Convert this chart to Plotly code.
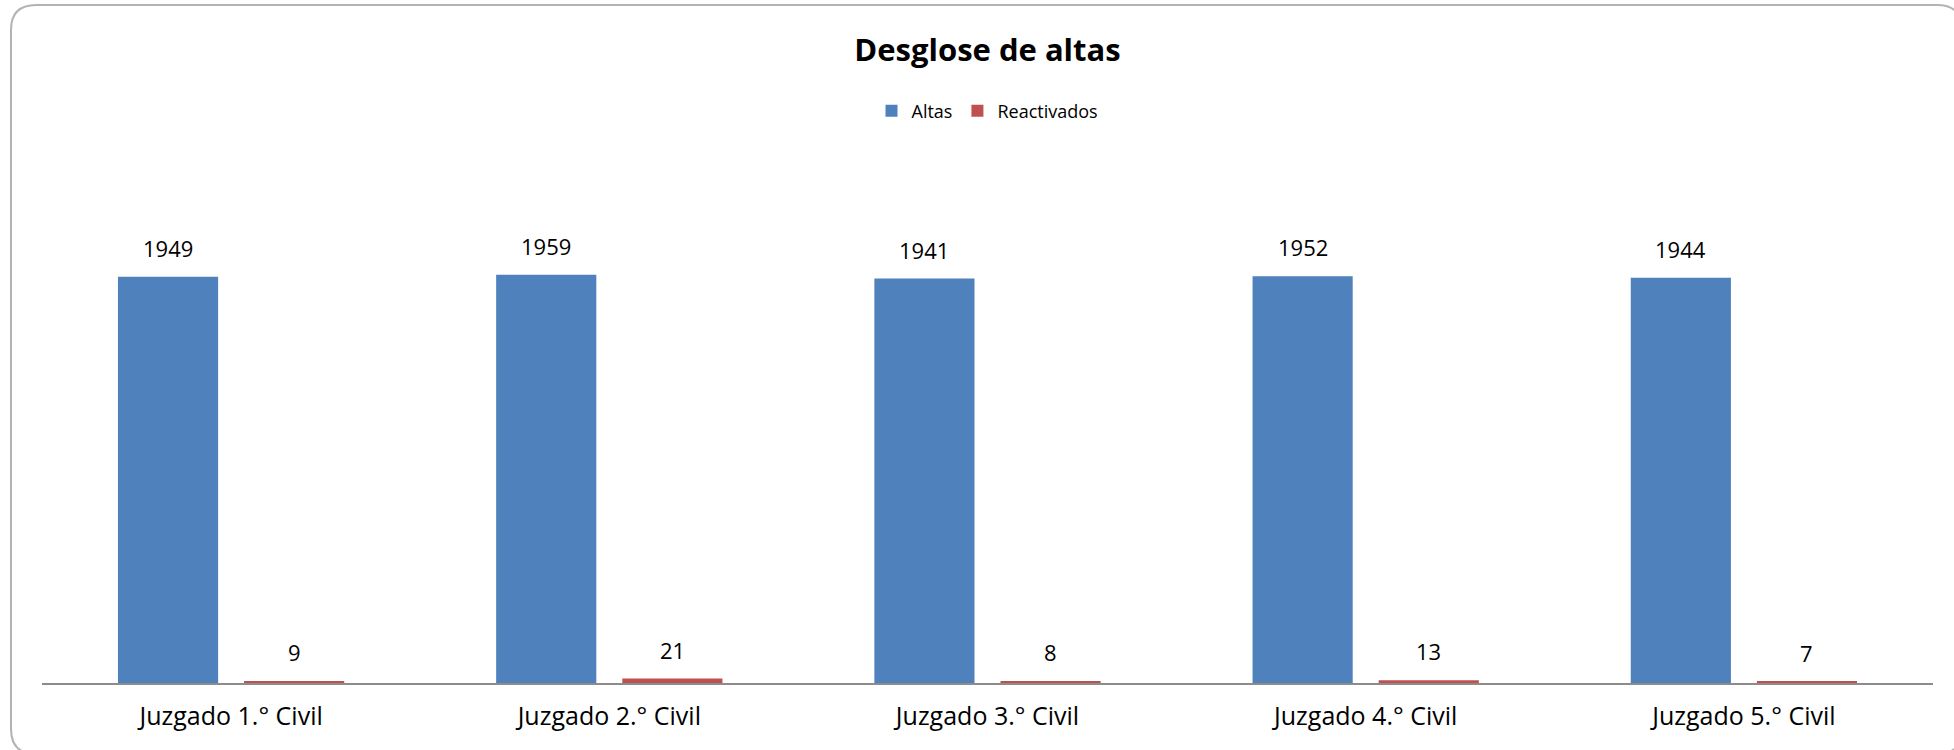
import plotly.graph_objects as go

categories = ["Juzgado 1.° Civil", "Juzgado 2.° Civil", "Juzgado 3.° Civil", "Juzgado 4.° Civil", "Juzgado 5.° Civil"]
altas = [1949, 1959, 1941, 1952, 1944]
reactivados = [9, 21, 8, 13, 7]
series_names = ["Altas", "Reactivados"]
colors = ["#4F81BD", "#C0504D"]

W, H = 1954, 750
ML, MR, MT, MB = 42, 21, 162, 67
BARGAP = 0.333
BARGROUPGAP = 0.206
FONT = "Open Sans, Noto Sans, DejaVu Sans, sans-serif"

fig = go.Figure()
for name, vals, col in zip(series_names, [altas, reactivados], colors):
    fig.add_trace(go.Bar(x=categories, y=vals, name=name,
                         marker=dict(color=col, line=dict(width=0))))

pw = W - ML - MR
cat_w = pw / len(categories)
offset = cat_w * (1 - BARGAP) / 4

annotations = []
for vals, sgn in zip([altas, reactivados], [-1, 1]):
    for c, v in zip(categories, vals):
        annotations.append(dict(x=c, y=v, xref="x", yref="y", text=str(v),
                                showarrow=False, xshift=sgn * offset, yshift=29,
                                yanchor="middle",
                                font=dict(family=FONT, size=22, color="#000000")))

ph = H - MT - MB
# border in pixels relative to plot-area bottom-left (y up)
bl, br = 11 - ML, 1962 - ML
bt, bb = (H - MB) - 5, (H - MB) - 754
r = 25
border = (f"M {bl+r},{bt} L {br-r},{bt} Q {br},{bt} {br},{bt-r} "
          f"L {br},{bb+r} Q {br},{bb} {br-r},{bb} "
          f"L {bl+r},{bb} Q {bl},{bb} {bl},{bb+r} "
          f"L {bl},{bt-r} Q {bl},{bt} {bl+r},{bt} Z")

fig.update_layout(
    width=W, height=H,
    margin=dict(l=ML, r=MR, t=MT, b=MB),
    paper_bgcolor="white", plot_bgcolor="white",
    barmode="group", bargap=BARGAP, bargroupgap=BARGROUPGAP,
    font=dict(family=FONT, color="#000000"),
    title=dict(text="<b>Desglose de altas</b>", x=0.5, xref="paper",
               y=1 - 50 / H, yref="container", yanchor="middle", xanchor="center",
               font=dict(family=FONT, size=31, color="#000000")),
    showlegend=True,
    legend=dict(orientation="h", x=0.5, xanchor="center", y=((H - MB) - 111) / ph,
                yanchor="middle", font=dict(family=FONT, size=18, color="#000000"),
                traceorder="normal", bgcolor="rgba(0,0,0,0)"),
    annotations=annotations,
    xaxis=dict(showline=True, linecolor="#8C8C8C", linewidth=2, ticks="",
               showgrid=False, zeroline=False,
               tickfont=dict(family=FONT, size=25, color="#000000"),
               ticklabelstandoff=10),
    yaxis=dict(range=[0, 2500], visible=False, showgrid=False, zeroline=False),
    shapes=[dict(type="path", xref="paper", yref="paper",
                 xsizemode="pixel", ysizemode="pixel", xanchor=0, yanchor=0,
                 path=border,
                 line=dict(color="#B3B3B3", width=2), fillcolor="rgba(0,0,0,0)",
                 layer="below")],
)

fig.write_html("out.html", config={"displayModeBar": False},
               post_script="document.body.style.margin='0px';document.body.style.overflow='hidden';")
